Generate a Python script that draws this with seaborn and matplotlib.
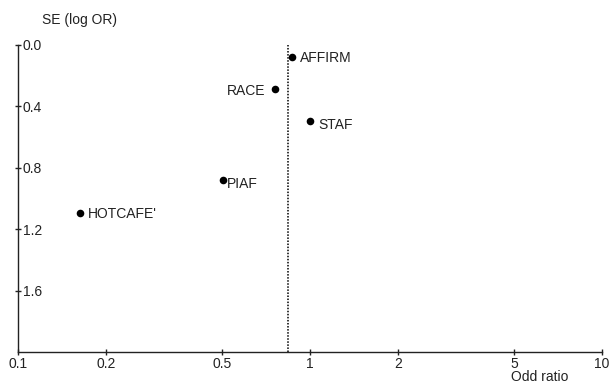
import matplotlib
matplotlib.use("Agg")
import matplotlib.pyplot as plt
import seaborn as sns
import pandas as pd

trials = ["AFFIRM", "RACE", "STAF", "PIAF", "HOTCAFE'"]
odds_ratio = [0.866, 0.759, 1.00, 0.502, 0.163]
se_log_or = [0.077, 0.289, 0.496, 0.879, 1.093]
pooled_or = 0.841
x_ticks = [0.1, 0.2, 0.5, 1, 2, 5, 10]
x_tick_labels = ["0.1", "0.2", "0.5", "1", "2", "5", "10"]
y_ticks = [0.0, 0.4, 0.8, 1.2, 1.6]
y_tick_labels = ["0.0", "0.4", "0.8", "1.2", "1.6"]

sns.set_style("ticks")
plt.rcParams['font.family'] = ['Liberation Sans', 'DejaVu Sans']

df = pd.DataFrame({"trial": trials, "OR": odds_ratio, "SE": se_log_or})

fig = plt.figure(figsize=(6.11, 3.83), dpi=100)
ax = fig.add_axes([18/611, 31/383, (602-18)/611, (352-45)/383])

sns.scatterplot(data=df, x="OR", y="SE", color="black", s=30,
                edgecolor="black", linewidth=0, ax=ax, zorder=3)
ax.set_xscale("log")
ax.set_xlim(0.1, 10)
ax.set_ylim(2.0, 0.0)

ax.axvline(pooled_or, color="black", linestyle=(0, (1.0, 1.0)), linewidth=1.1, zorder=2)

offsets = {"AFFIRM": (6, -1, "left"), "RACE": (-7, -1, "right"),
           "STAF": (6, -3, "left"), "PIAF": (3, -3, "left"),
           "HOTCAFE'": (6, -1, "left")}
for t, x, y in zip(trials, odds_ratio, se_log_or):
    dx, dy, ha = offsets[t]
    ax.annotate(t, (x, y), xytext=(dx, dy), textcoords="offset points",
                ha=ha, va="center", fontsize=10, color="#222222")

ax.set_xticks(x_ticks)
ax.set_xticklabels(x_tick_labels)
ax.xaxis.set_minor_locator(matplotlib.ticker.NullLocator())
ax.set_yticks(y_ticks)
ax.set_yticklabels(y_tick_labels)
ax.tick_params(axis="both", direction="inout", length=5, width=1.0,
               labelsize=10, labelcolor="#222222", color="#222222")
ax.tick_params(axis="y", pad=-6)
for lab in ax.get_yticklabels():
    lab.set_ha("left")
ax.tick_params(axis="x", pad=1)

for side in ["top", "right"]:
    ax.spines[side].set_visible(False)
for side in ["left", "bottom"]:
    ax.spines[side].set_linewidth(1.0)
    ax.spines[side].set_color("#222222")

ax.set_xlabel("")
ax.set_ylabel("")
fig.text(42/611, 1 - 20/383, "SE (log OR)", fontsize=10, color="#222222",
         ha="left", va="center")
fig.text(540/611, 1 - 377/383, "Odd ratio", fontsize=10, color="#222222",
         ha="center", va="center")

fig.savefig("out.png", dpi=100)
